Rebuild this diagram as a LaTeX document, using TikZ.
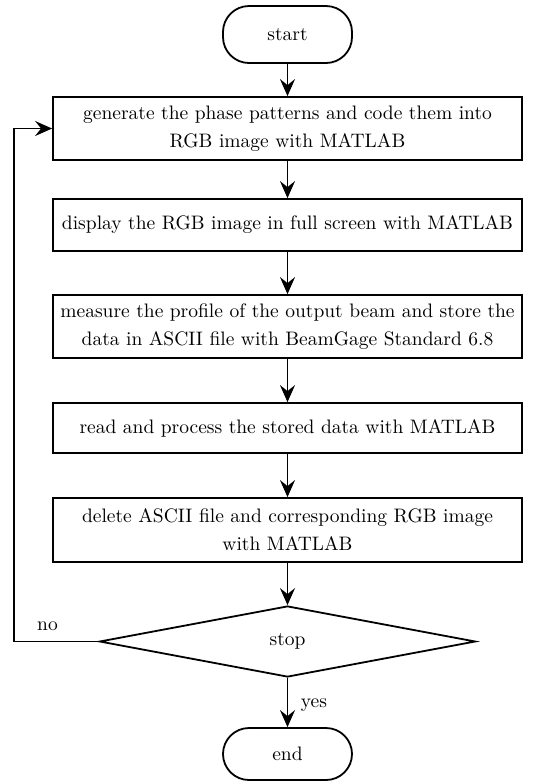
\documentclass[tikz,border=0pt]{standalone}
\usepackage{tikz}
\usetikzlibrary{arrows.meta,shapes.geometric}

\tikzset{
  terminal/.style = {draw, rounded corners=13pt, minimum width=64.5pt, inner sep=0pt},
  process/.style = {draw, minimum width=234.5pt, align=center, inner sep=0pt},
  decision/.style = {draw, diamond, aspect=5, minimum width=188pt, minimum height=35.5pt, inner sep=0pt},
  flow/.style = {-{Stealth[length=8.5pt, width=7.5pt, inset=3pt]}}
}

\begin{document}
\begin{tikzpicture}[line width=0.9pt, x=1pt, y=1pt, font=\fontsize{9.75}{14}\selectfont]
    \useasboundingbox (0,0) rectangle (268.5,-392);

    % Start and end terminals
    \node[terminal, minimum height=28.5pt] (start) at (143.75,-17.25) {start};
    \node[terminal, minimum height=26pt] (end) at (143.75,-377) {end};

    % Process boxes
    \node[process, minimum height=31.5pt] (gen) at (143.75,-64.25)
        {generate the phase patterns and code them into\\RGB image with MATLAB};
    \node[process, minimum height=26pt] (disp) at (143.75,-112.5)
        {display the RGB image in full screen with MATLAB};
    \node[process, minimum height=31.5pt] (meas) at (143.75,-163.25)
        {measure the profile of the output beam and store the\\data in ASCII file with BeamGage Standard 6.8};
    \node[process, minimum height=25pt] (read) at (143.75,-214)
        {read and process the stored data with MATLAB};
    \node[process, minimum height=32pt] (del) at (143.75,-265)
        {delete ASCII file and corresponding RGB image\\with MATLAB};

    % Decision
    \node[decision] (stop) at (143.75,-320.75) {stop};

    % Main flow
    \draw[flow] (start) -- (gen);
    \draw[flow] (gen) -- (disp);
    \draw[flow] (disp) -- (meas);
    \draw[flow] (meas) -- (read);
    \draw[flow] (read) -- (del);
    \draw[flow] (del) -- (stop);
    \draw[flow] (stop) -- (end);
    \node (yes) at (157,-352.5) {yes};

    % Loop back when not stopping
    \coordinate (back) at (7,-320.75);
    \draw[flow] (stop.west) -- (back) |- (gen.west);
    \node (no) at (23.75,-313) {no};

\end{tikzpicture}
\end{document}
